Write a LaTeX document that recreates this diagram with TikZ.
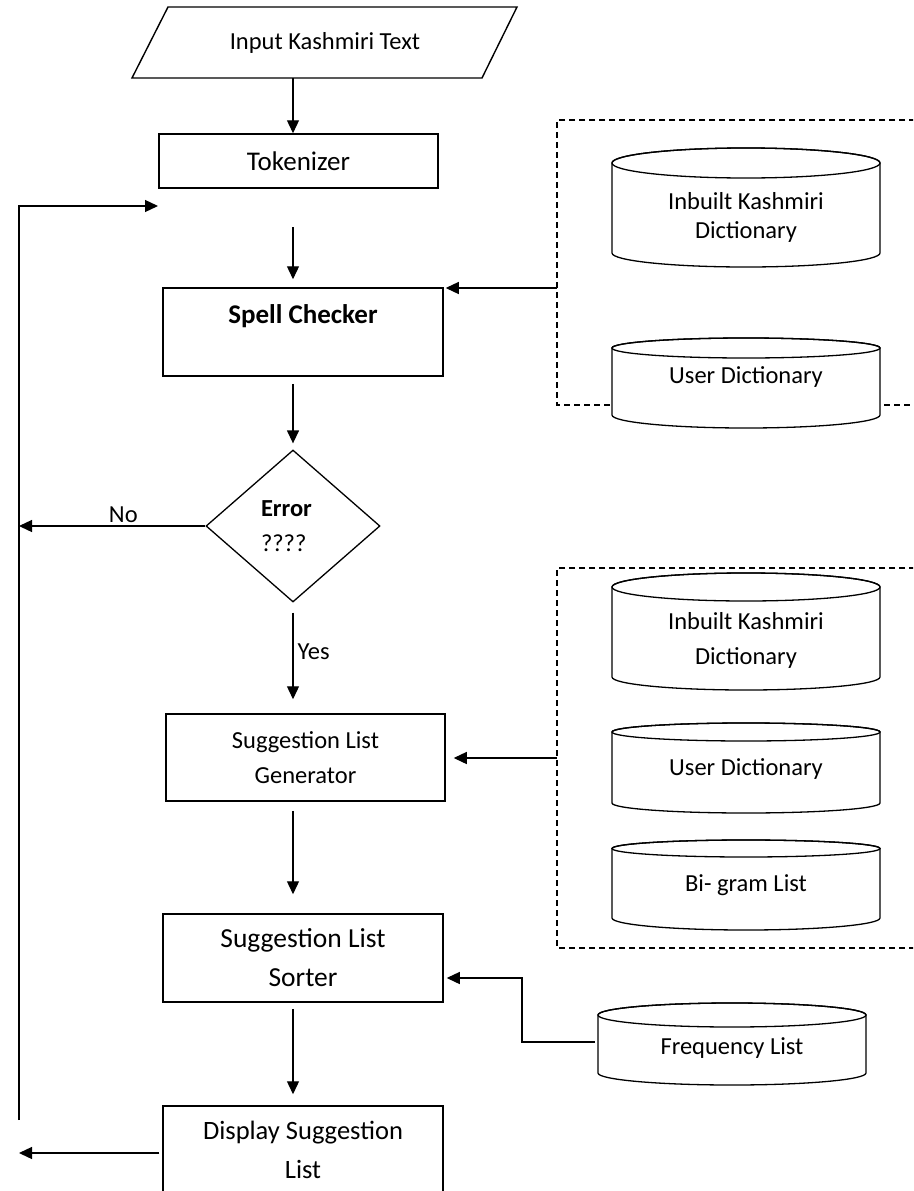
\documentclass[tikz,border=0pt]{standalone}
\usepackage{fontspec}
\setmainfont{Carlito}
\usetikzlibrary{arrows.meta,shapes.geometric,calc}
\begin{document}
\begin{tikzpicture}[x=1pt,y=1pt,
  box/.style={draw, line width=1.5pt, inner sep=0pt, align=center, font=\fontsize{24.5}{35}\selectfont},
  arr/.style={-{Triangle[length=13pt,width=12pt]}, line width=1.3pt},
  ln/.style={line width=1.3pt},
  dbox/.style={line width=1.3pt, dash pattern=on 6pt off 4pt},
  cyl/.style={draw, line width=1.3pt, fill=white},
  txt/.style={align=center, inner sep=0pt, font=\fontsize{24.5}{29}\selectfont},
]
\useasboundingbox (0,0) rectangle (913,-1191);
\clip (0,0) rectangle (913,-1191);
\fill[white] (0,0) rectangle (913,-1191);

% input parallelogram
\draw[line width=1.4pt] (132,-78) -- (168,-7) -- (517,-7) -- (482,-78) -- cycle;
\node[txt, minimum width=314pt, minimum height=71pt] (input) at (325,-42.5) {Input Kashmiri Text};

% main column
\node[box, minimum width=279pt, minimum height=54pt, font=\fontsize{27}{32}\selectfont] (tok) at (298.5,-161) {Tokenizer};
\node[box, minimum width=280pt, minimum height=88pt, font=\fontsize{27}{32}\selectfont\bfseries, text height=20pt, text depth=38pt] (spell) at (303,-332) {Spell Checker};
\node[draw, diamond, line width=1.3pt, minimum width=174pt, minimum height=152pt, inner sep=0pt, align=left, text width=64pt, font=\fontsize{24.5}{35}\selectfont] (err) at (293,-526) {\textbf{Error}\\????};
\node[box, minimum width=279pt, minimum height=87pt] (gen) at (305.5,-757.5) {Suggestion List\\Generator};
\node[box, minimum width=280pt, minimum height=88pt, font=\fontsize{27.5}{39}\selectfont] (sort) at (303,-958) {Suggestion List\\Sorter};
\node[box, minimum width=280pt, minimum height=88pt, font=\fontsize{26.5}{39}\selectfont] (disp) at (303,-1150) {Display Suggestion\\List};

% dashed groups
\draw[dbox] (915,-120) -- (557,-120) -- (557,-405) -- (915,-405);
\draw[dbox] (915,-568) -- (557,-568) -- (557,-948) -- (915,-948);

% cylinders: left / top / bottom / top radius / bottom radius
\foreach \l/\t/\b/\rt/\rb in {612/148/267/15/14, 612/338/428/10/13, 612/573/690/14/13, 612/723/813/9/10, 612/840/930/8.5/12, 598/1003/1085/12/12}{
  \draw[cyl] (\l,-\t-\rt) -- (\l,-\b+\rb) arc[start angle=180,end angle=360,x radius=134,y radius=\rb]
     -- (\l+268,-\t-\rt) arc[start angle=0,end angle=180,x radius=134,y radius=\rt] -- cycle;
  \draw[ln] (\l+134,-\t-\rt) ellipse[x radius=134,y radius=\rt];
}
\node[txt] (ikd1) at (746,-217) {Inbuilt Kashmiri\\Dictionary};
\node[txt] (ud1) at (746,-377) {User Dictionary};
\node[txt, font=\fontsize{24.5}{35}\selectfont] (ikd2) at (746,-640.5) {Inbuilt Kashmiri\\Dictionary};
\node[txt] (ud2) at (746,-769) {User Dictionary};
\node[txt] (bg) at (746,-885) {Bi- gram List};
\node[txt] (freq) at (732,-1048) {Frequency List};

% coordinates
\coordinate (loopB) at (19,-1120);
\coordinate (loopT) at (19,-206);
\coordinate (loopE) at (158,-206);
\coordinate (gapS) at (293,-227);
\coordinate (d1w) at (557,-288);
\coordinate (d2w) at (557,-758);
\coordinate (freqw) at (598,-1042);

% connectors
\draw[arr] (input.south -| err) -- (tok.north -| err);
\draw[arr] (loopB) -- (loopT) -- (loopE);
\draw[arr, shorten >=8pt] (gapS) -- (spell.north -| gapS);
\draw[arr, shorten >=2pt] (d1w) -- (d1w -| spell.east);
\draw[arr, shorten <=7pt, shorten >=6pt] (spell.south -| err) -- (err.north);
\draw[arr] (err.west) -- (err.west -| loopB)
  node[pos=0.44, above, inner sep=3pt, font=\fontsize{24.5}{29}\selectfont] {No};
\draw[arr, shorten <=10pt, shorten >=14pt] (err.south) -- (gen.north -| err)
  node[pos=0.44, right, inner sep=4pt, font=\fontsize{24.5}{29}\selectfont] {Yes};
\draw[arr, shorten >=8pt] (d2w) -- (d2w -| gen.east);
\draw[arr, shorten <=9pt, shorten >=19pt] (gen.south -| err) -- (sort.north -| err);
\draw[arr, shorten <=3pt] (freqw) -- ++(-76,0) |- ($(sort.east)+(3,-20)$);
\draw[arr, shorten <=6pt, shorten >=11pt] (sort.south -| err) -- (disp.north -| err);
\draw[arr, shorten <=3pt] ($(disp.west)+(0,-3)$) -- ($(disp.west -| loopB)+(0,-3)$);
\end{tikzpicture}
\end{document}
